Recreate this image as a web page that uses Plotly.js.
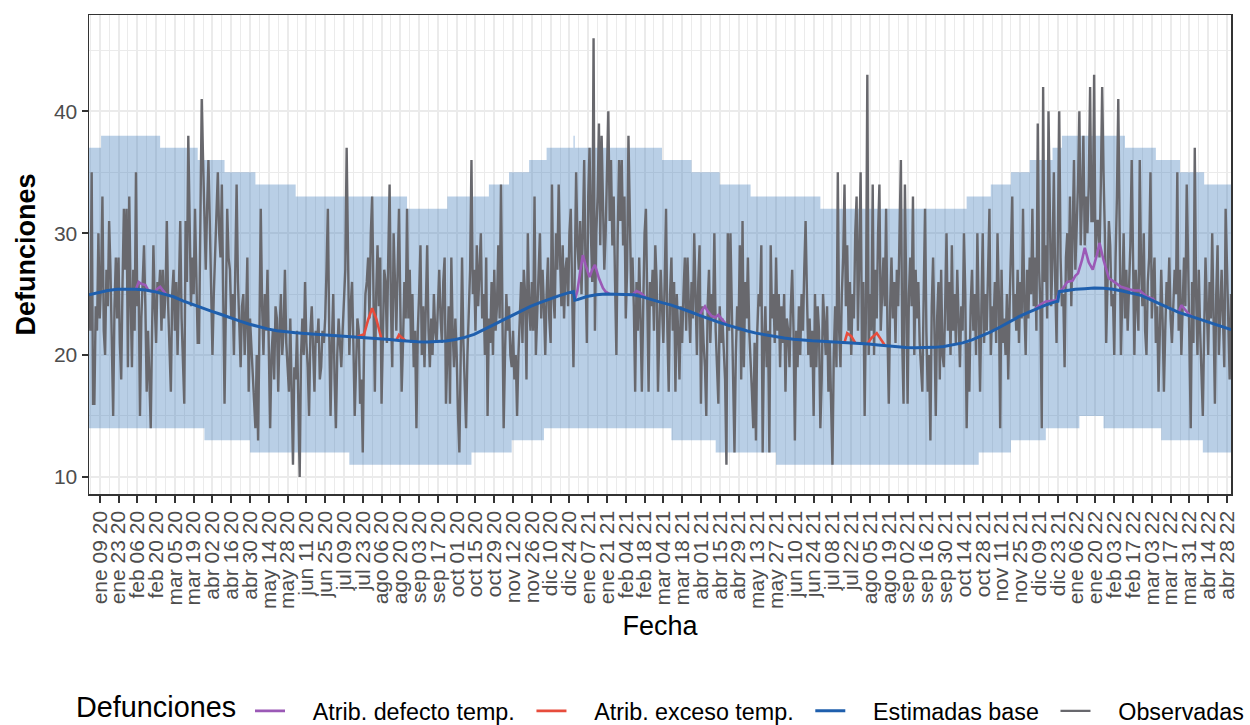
<!DOCTYPE html>
<html lang="es">
<head>
<meta charset="utf-8">
<script src="https://cdn.plot.ly/plotly-3.0.1.min.js"></script>
<style>
  html, body { margin: 0; padding: 0; background: #ffffff; }
  #grafico { width: 1250px; height: 725px; }
</style>
</head>
<body>
<div id="grafico"></div>
<script>
const FECHA_INICIO = "2020-01-01";

// Defunciones observadas, un valor por día desde FECHA_INICIO
const OBSERVADAS = [
  25, 22, 35, 16, 16, 24, 22, 30, 23, 26, 33, 22, 20, 27,
  24, 31, 27, 22, 15, 24, 28, 23, 28, 21, 18, 26, 32, 27,
  32, 19, 33, 25, 19, 27, 22, 35, 24, 26, 15, 23, 27, 29,
  24, 17, 22, 18, 14, 22, 29, 24, 21, 26, 25, 27, 22, 27,
  23, 25, 31, 24, 20, 17, 25, 27, 22, 26, 20, 25, 31, 23,
  20, 16, 31, 26, 38, 29, 24, 28, 25, 32, 26, 21, 21, 29,
  41, 36, 30, 27, 32, 36, 31, 26, 20, 25, 29, 31, 35, 30,
  28, 34, 25, 16, 24, 32, 28, 27, 23, 25, 20, 27, 34, 26,
  22, 19, 24, 25, 20, 23, 28, 17, 23, 21, 18, 16, 14, 20,
  13, 22, 32, 24, 20, 25, 22, 27, 18, 14, 20, 22, 18, 24,
  23, 17, 22, 25, 20, 22, 27, 21, 19, 17, 23, 16, 11, 19,
  18, 22, 15, 10, 20, 23, 20, 26, 21, 19, 15, 22, 24, 20,
  17, 22, 21, 23, 18, 19, 22, 21, 23, 27, 32, 22, 15, 21,
  25, 18, 14, 20, 23, 21, 19, 22, 24, 27, 37, 28, 20, 24,
  26, 21, 15, 19, 23, 22, 16, 18, 12, 21, 25, 26, 28, 23,
  30, 33, 23, 17, 25, 29, 24, 28, 16, 22, 27, 26, 21, 28,
  34, 24, 19, 30, 25, 22, 27, 32, 24, 17, 21, 26, 23, 32,
  23, 27, 21, 25, 19, 22, 14, 22, 25, 29, 20, 24, 19, 23,
  29, 22, 19, 23, 20, 25, 22, 21, 24, 27, 23, 21, 26, 28,
  16, 20, 24, 16, 28, 22, 19, 23, 20, 15, 12, 20, 28, 21,
  18, 14, 20, 24, 27, 36, 25, 27, 22, 29, 24, 27, 30, 23,
  25, 20, 28, 15, 23, 21, 26, 20, 27, 22, 24, 29, 23, 34,
  25, 14, 20, 25, 22, 24, 20, 19, 22, 18, 20, 15, 20, 23,
  26, 21, 27, 25, 18, 30, 24, 22, 26, 22, 33, 20, 24, 28,
  30, 23, 27, 24, 20, 25, 28, 23, 21, 34, 25, 23, 30, 27,
  34, 28, 24, 29, 23, 27, 28, 24, 30, 32, 26, 19, 27, 35,
  29, 27, 31, 25, 30, 36, 27, 21, 33, 37, 30, 26, 46, 22,
  30, 33, 39, 29, 38, 31, 27, 30, 36, 40, 31, 36, 29, 33,
  26, 20, 30, 36, 31, 36, 29, 33, 23, 27, 38, 31, 25, 28,
  24, 17, 26, 22, 28, 23, 17, 24, 30, 32, 23, 17, 26, 24,
  27, 22, 29, 26, 17, 23, 27, 24, 21, 26, 32, 22, 17, 25,
  28, 22, 26, 17, 25, 22, 18, 24, 21, 25, 28, 22, 28, 24,
  21, 26, 23, 30, 25, 20, 26, 29, 16, 24, 21, 19, 15, 24,
  27, 21, 25, 23, 30, 22, 19, 16, 24, 21, 23, 20, 18, 11,
  30, 22, 30, 24, 19, 12, 20, 24, 22, 29, 18, 31, 19, 26,
  23, 28, 22, 20, 17, 14, 21, 13, 22, 25, 24, 29, 12, 21,
  24, 19, 22, 12, 29, 23, 25, 21, 28, 22, 25, 19, 24, 21,
  25, 17, 23, 22, 19, 24, 27, 22, 13, 22, 19, 24, 20, 25,
  22, 27, 31, 25, 20, 23, 19, 22, 15, 25, 19, 24, 22, 14,
  18, 25, 22, 20, 24, 17, 21, 16, 11, 20, 24, 19, 35, 22,
  19, 25, 28, 34, 24, 29, 22, 26, 20, 25, 23, 30, 33, 22,
  28, 35, 21, 26, 15, 24, 43, 20, 25, 22, 34, 20, 27, 23,
  30, 34, 22, 26, 28, 24, 32, 22, 16, 24, 28, 23, 26, 21,
  27, 24, 29, 36, 21, 16, 34, 22, 16, 25, 28, 24, 33, 20,
  27, 23, 26, 21, 19, 17, 25, 32, 22, 17, 20, 13, 24, 28,
  22, 15, 23, 26, 18, 27, 20, 19, 24, 30, 22, 26, 20, 29,
  22, 25, 21, 27, 23, 19, 24, 22, 30, 25, 14, 21, 17, 24,
  27, 22, 25, 20, 30, 23, 17, 24, 30, 21, 25, 22, 27, 32,
  20, 24, 22, 26, 21, 30, 25, 14, 27, 21, 23, 20, 25, 18,
  24, 28, 33, 23, 25, 22, 27, 21, 26, 23, 32, 24, 20, 27,
  23, 28, 25, 32, 24, 28, 22, 39, 27, 24, 14, 42, 26, 29,
  23, 40, 30, 24, 28, 35, 26, 21, 30, 40, 28, 24, 25, 19,
  28, 30, 26, 33, 24, 31, 36, 27, 30, 34, 40, 29, 33, 38,
  29, 33, 30, 34, 42, 31, 31, 43, 28, 31, 31, 28, 34, 42,
  35, 30, 21, 27, 31, 29, 24, 25, 20, 28, 33, 41, 27, 20,
  25, 30, 23, 27, 22, 26, 29, 36, 25, 20, 27, 24, 22, 36,
  27, 24, 30, 22, 20, 26, 28, 35, 23, 26, 28, 21, 24, 17,
  22, 27, 23, 17, 22, 26, 24, 28, 23, 21, 24, 27, 25, 35,
  22, 27, 20, 25, 28, 24, 34, 28, 22, 14, 26, 21, 37, 25,
  20, 27, 22, 19, 15, 22, 28, 24, 20, 26, 23, 30, 22, 16,
  25, 29, 20, 24, 27, 23, 19, 32, 28, 23, 18, 25
];

// Defunciones estimadas base, una lectura cada 7 días desde FECHA_INICIO
const BASE_SEMANAL = [
  24.95, 25.15, 25.3, 25.4, 25.42, 25.4, 25.33, 25.2, 25.0, 24.78,
  24.45, 24.15, 23.9, 23.6, 23.35, 23.05, 22.8, 22.55, 22.32, 22.15,
  22.0, 21.9, 21.83, 21.77, 21.72, 21.67, 21.6, 21.55, 21.5, 21.45,
  21.38, 21.32, 21.27, 21.2, 21.13, 21.1, 21.08, 21.1, 21.15, 21.28,
  21.45, 21.7, 22.05, 22.45, 22.85, 23.25, 23.65, 24.0, 24.3, 24.6,
  24.85, 25.1, 24.55, 24.8, 24.95, 25.0, 25.0, 25.0, 24.95, 24.75,
  24.5, 24.3, 24.1, 23.85, 23.55, 23.25, 22.95, 22.7, 22.45, 22.2,
  22.0, 21.8, 21.65, 21.5, 21.4, 21.3, 21.22, 21.18, 21.14, 21.1,
  21.06, 21.0, 20.95, 20.9, 20.83, 20.75, 20.68, 20.62, 20.6, 20.6,
  20.63, 20.7, 20.82, 21.0, 21.25, 21.55, 21.9, 22.3, 22.75, 23.15,
  23.5, 23.85, 24.15, 24.4, 25.3, 25.4, 25.45, 25.5, 25.48, 25.4,
  25.25, 25.1, 24.9, 24.55, 24.2, 23.8, 23.5, 23.25, 23.0, 22.78,
  22.55, 22.3
];
// Cambios de temporada del modelo base y último día
const BASE_SALTOS_FECHAS = ["2020-12-27", "2020-12-28", "2021-12-23", "2021-12-24", "2022-05-01"];
const BASE_SALTOS_VALORES = [25.2, 24.5, 24.42, 25.2, 22.1];

// Límites del intervalo esperado (valor vigente desde cada fecha)
const BANDA_SUP_FECHAS = [
  "2020-01-01", "2020-01-10", "2020-02-23", "2020-03-22", "2020-04-11", "2020-05-04",
  "2020-06-03", "2020-08-25", "2020-09-24", "2020-10-25", "2020-11-09", "2020-11-24",
  "2020-12-07", "2020-12-27", "2020-12-28", "2021-03-03", "2021-03-25", "2021-04-15",
  "2021-05-08", "2021-06-29", "2021-10-16", "2021-11-03", "2021-11-18", "2021-12-02",
  "2021-12-19", "2021-12-26", "2022-02-11", "2022-03-06", "2022-03-24", "2022-04-11",
  "2022-05-01"
];
const BANDA_SUP_VALORES = [
  37, 38, 37, 36, 35, 34, 33, 32, 33, 34, 35, 36, 37, 38, 37, 36,
  35, 34, 33, 32, 33, 34, 35, 36, 37, 38, 37, 36, 35, 34, 34
];
const BANDA_INF_FECHAS = [
  "2020-01-01", "2020-03-27", "2020-04-30", "2020-07-13", "2020-10-12", "2020-11-11",
  "2020-12-05", "2021-03-10", "2021-04-12", "2021-05-27", "2021-10-25", "2021-11-18",
  "2021-12-14", "2022-01-08", "2022-01-26", "2022-03-10", "2022-04-10", "2022-05-01"
];
const BANDA_INF_VALORES = [14, 13, 12, 11, 12, 13, 14, 13, 12, 11, 12, 13, 14, 15, 14, 13, 12, 12];

// Atribuibles a defecto de temperatura (base + atribuibles); null separa episodios
const DEFECTO_FECHAS = [
  "2020-02-05", "2020-02-07", "2020-02-09", "2020-02-12", "2020-02-14", "2020-02-16",
  "2020-02-19", "2020-02-21", "2020-02-23", "2020-02-25", "2020-02-28", null,
  "2020-12-28", "2020-12-30", "2021-01-01", "2021-01-03", "2021-01-05", "2021-01-08",
  "2021-01-10", "2021-01-12", "2021-01-15", "2021-01-18", "2021-01-20", "2021-01-23", null,
  "2021-02-09", "2021-02-12", "2021-02-15", "2021-02-19", null,
  "2021-03-31", "2021-04-02", "2021-04-04", "2021-04-06", "2021-04-09", "2021-04-12",
  "2021-04-14", "2021-04-17", "2021-04-20", null,
  "2021-12-06", "2021-12-10", "2021-12-14", "2021-12-18", "2021-12-22", "2021-12-24",
  "2021-12-27", "2021-12-30", "2022-01-03", "2022-01-05", "2022-01-07", "2022-01-10",
  "2022-01-12", "2022-01-15", "2022-01-18", "2022-01-21", "2022-01-23", "2022-01-26",
  "2022-01-30", "2022-02-03", "2022-02-08", "2022-02-14", "2022-02-18", "2022-02-22",
  "2022-02-27", "2022-03-04", "2022-03-06", null,
  "2022-03-23", "2022-03-25", "2022-03-28", "2022-03-31", "2022-04-02"
];
const DEFECTO_VALORES = [
  25.4, 26.0, 25.85, 25.75, 25.35, 25.25, 25.2, 25.45, 25.6, 25.35, 24.9, null,
  24.5, 25.3, 26.8, 28.2, 27.4, 26.4, 27.0, 27.4, 26.3, 25.5, 25.2, 25.0, null,
  24.95, 25.25, 25.1, 24.7, null,
  23.25, 23.7, 24.0, 23.6, 23.2, 23.1, 23.3, 22.9, 22.5, null,
  23.8, 24.15, 24.4, 24.45, 24.5, 25.2, 25.5, 26.0, 26.1, 26.5, 26.7, 27.8,
  28.8, 27.6, 27.0, 28.2, 29.2, 27.8, 26.3, 26.0, 25.6, 25.4, 25.3, 25.3,
  24.8, 24.6, 24.3, null,
  23.5, 24.1, 23.7, 23.3, 23.15
];

// Atribuibles a exceso de temperatura (base + atribuibles)
const EXCESO_FECHAS = [
  "2020-07-19", "2020-07-22", "2020-07-24", "2020-07-27", "2020-07-30", "2020-08-02",
  "2020-08-05", "2020-08-06", null,
  "2020-08-17", "2020-08-19", "2020-08-21", "2020-08-24", null,
  "2021-07-17", "2021-07-19", "2021-07-22", "2021-07-25", null,
  "2021-08-03", "2021-08-06", "2021-08-10", "2021-08-13", "2021-08-16"
];
const EXCESO_VALORES = [
  21.5, 21.6, 21.7, 22.9, 23.85, 23.0, 21.7, 21.3, null,
  21.2, 21.65, 21.45, 21.15, null,
  21.05, 21.8, 21.55, 21.0, null,
  20.9, 21.4, 21.8, 21.3, 20.8
];

const ETIQUETAS_Y = [10, 20, 30, 40];
const PRIMER_TICK_X = "2020-01-09";
const ETIQUETAS_X = [
  "ene 09 20", "ene 23 20", "feb 06 20", "feb 20 20", "mar 05 20", "mar 19 20", "abr 02 20",
  "abr 16 20", "abr 30 20", "may 14 20", "may 28 20", "jun 11 20", "jun 25 20", "jul 09 20",
  "jul 23 20", "ago 06 20", "ago 20 20", "sep 03 20", "sep 17 20", "oct 01 20", "oct 15 20",
  "oct 29 20", "nov 12 20", "nov 26 20", "dic 10 20", "dic 24 20",
  "ene 07 21", "ene 21 21", "feb 04 21", "feb 18 21", "mar 04 21", "mar 18 21", "abr 01 21",
  "abr 15 21", "abr 29 21", "may 13 21", "may 27 21", "jun 10 21", "jun 24 21", "jul 08 21",
  "jul 22 21", "ago 05 21", "ago 19 21", "sep 02 21", "sep 16 21", "sep 30 21", "oct 14 21",
  "oct 28 21", "nov 11 21", "nov 25 21", "dic 09 21", "dic 23 21",
  "ene 06 22", "ene 20 22", "feb 03 22", "feb 17 22", "mar 03 22", "mar 17 22", "mar 31 22",
  "abr 14 22", "abr 28 22"
];

const DIA_MS = 86400000;
const sumarDias = (fecha, dias) =>
  new Date(Date.parse(fecha + "T00:00:00Z") + dias * DIA_MS).toISOString().slice(0, 10);

// espacios para separar la muestra de línea del texto en la leyenda
const antes = "\u2002\u2009\u00a0";
const despues = "\u2002";

const dibujarDefunciones = () => {
  const plotEl = document.getElementById("grafico");

  const fechasObs = OBSERVADAS.map((_, i) => sumarDias(FECHA_INICIO, i));
  const fechaFin = fechasObs[fechasObs.length - 1];

  const base = BASE_SEMANAL.map((v, i) => ({ x: sumarDias(FECHA_INICIO, i * 7), y: v }))
    .concat(BASE_SALTOS_FECHAS.map((f, i) => ({ x: f, y: BASE_SALTOS_VALORES[i] })))
    .sort((a, b) => (a.x < b.x ? -1 : a.x > b.x ? 1 : 0));

  const tickFechas = ETIQUETAS_X.map((_, i) => sumarDias(PRIMER_TICK_X, i * 14));

  const data = [
    {
      x: BANDA_SUP_FECHAS, y: BANDA_SUP_VALORES,
      type: "scatter", mode: "lines",
      line: { width: 0, shape: "hv", color: "rgba(70,130,190,0)" },
      showlegend: false, hoverinfo: "skip"
    },
    {
      x: BANDA_INF_FECHAS, y: BANDA_INF_VALORES,
      type: "scatter", mode: "lines",
      line: { width: 0, shape: "hv", color: "rgba(70,130,190,0)" },
      fill: "tonexty", fillcolor: "rgba(70,130,190,0.38)",
      showlegend: false, hoverinfo: "skip"
    },
    {
      x: fechasObs, y: OBSERVADAS,
      type: "scatter", mode: "lines", name: antes + "Observadas",
      line: { color: "#68686d", width: 2.4 },
      legendrank: 4
    },
    {
      x: DEFECTO_FECHAS, y: DEFECTO_VALORES,
      type: "scatter", mode: "lines", name: antes + "Atrib. defecto temp." + despues,
      line: { color: "#9b59b6", width: 2.6 }, connectgaps: false,
      legendrank: 1
    },
    {
      x: EXCESO_FECHAS, y: EXCESO_VALORES,
      type: "scatter", mode: "lines", name: antes + "Atrib. exceso temp." + despues,
      line: { color: "#e74c3c", width: 2.6 }, connectgaps: false,
      legendrank: 2
    },
    {
      x: base.map((p) => p.x), y: base.map((p) => p.y),
      type: "scatter", mode: "lines", name: antes + "Estimadas base" + despues,
      line: { color: "#1f5fad", width: 3 },
      legendrank: 3
    }
  ];

  const layout = {
    width: 1250,
    height: 725,
    margin: { l: 89, r: 19, t: 15, b: 231 },
    paper_bgcolor: "#ffffff",
    plot_bgcolor: "#ffffff",
    font: { family: "Liberation Sans, Arial, sans-serif", color: "#000000" },
    xaxis: {
      type: "date",
      automargin: false,
      range: [FECHA_INICIO, fechaFin],
      tickmode: "array",
      tickvals: tickFechas,
      ticktext: ETIQUETAS_X,
      tickangle: -90,
      tickfont: { size: 21, color: "#4d4d4d" },
      ticks: "outside", ticklen: 7, tickwidth: 2, tickcolor: "#333333",
      showgrid: true, gridcolor: "#ebebeb", gridwidth: 2,
      minor: { tickmode: "linear", tick0: "2020-01-02", dtick: 7 * DIA_MS, showgrid: true, gridcolor: "#ebebeb", gridwidth: 1, ticks: "" },
      showline: true, mirror: true, linecolor: "#333333", linewidth: 1.5,
      zeroline: false,
      title: { text: "Fecha", font: { size: 27, color: "#000000" }, standoff: 8 }
    },
    yaxis: {
      automargin: false,
      range: [8.6, 47.9],
      tickmode: "array",
      tickvals: ETIQUETAS_Y,
      tickfont: { size: 21, color: "#4d4d4d" },
      ticks: "outside", ticklen: 6, tickwidth: 2, tickcolor: "#333333",
      showgrid: true, gridcolor: "#ebebeb", gridwidth: 2,
      minor: { tickmode: "linear", tick0: 5, dtick: 10, showgrid: true, gridcolor: "#ebebeb", gridwidth: 1, ticks: "" },
      showline: true, mirror: true, linecolor: "#333333", linewidth: 1.5,
      zeroline: false,
      title: { text: "<b>Defunciones</b>", font: { size: 27, color: "#000000" }, standoff: 10 }
    },
    legend: {
      orientation: "h",
      xref: "container", x: 0.2, xanchor: "left",
      yref: "container", y: 0.019, yanchor: "middle",
      traceorder: "normal",
      font: { size: 23.3, color: "#000000" },
      bgcolor: "rgba(0,0,0,0)"
    },
    annotations: [
      {
        text: "Defunciones",
        xref: "paper", yref: "paper",
        x: -0.0123, xanchor: "left",
        y: -0.481, yanchor: "bottom",
        showarrow: false,
        borderpad: 0,
        font: { size: 28.8, color: "#000000" }
      }
    ],
    showlegend: true
  };

  Plotly.newPlot(plotEl, data, layout, { displayModeBar: false, staticPlot: true });
};

dibujarDefunciones();
</script>
</body>
</html>
